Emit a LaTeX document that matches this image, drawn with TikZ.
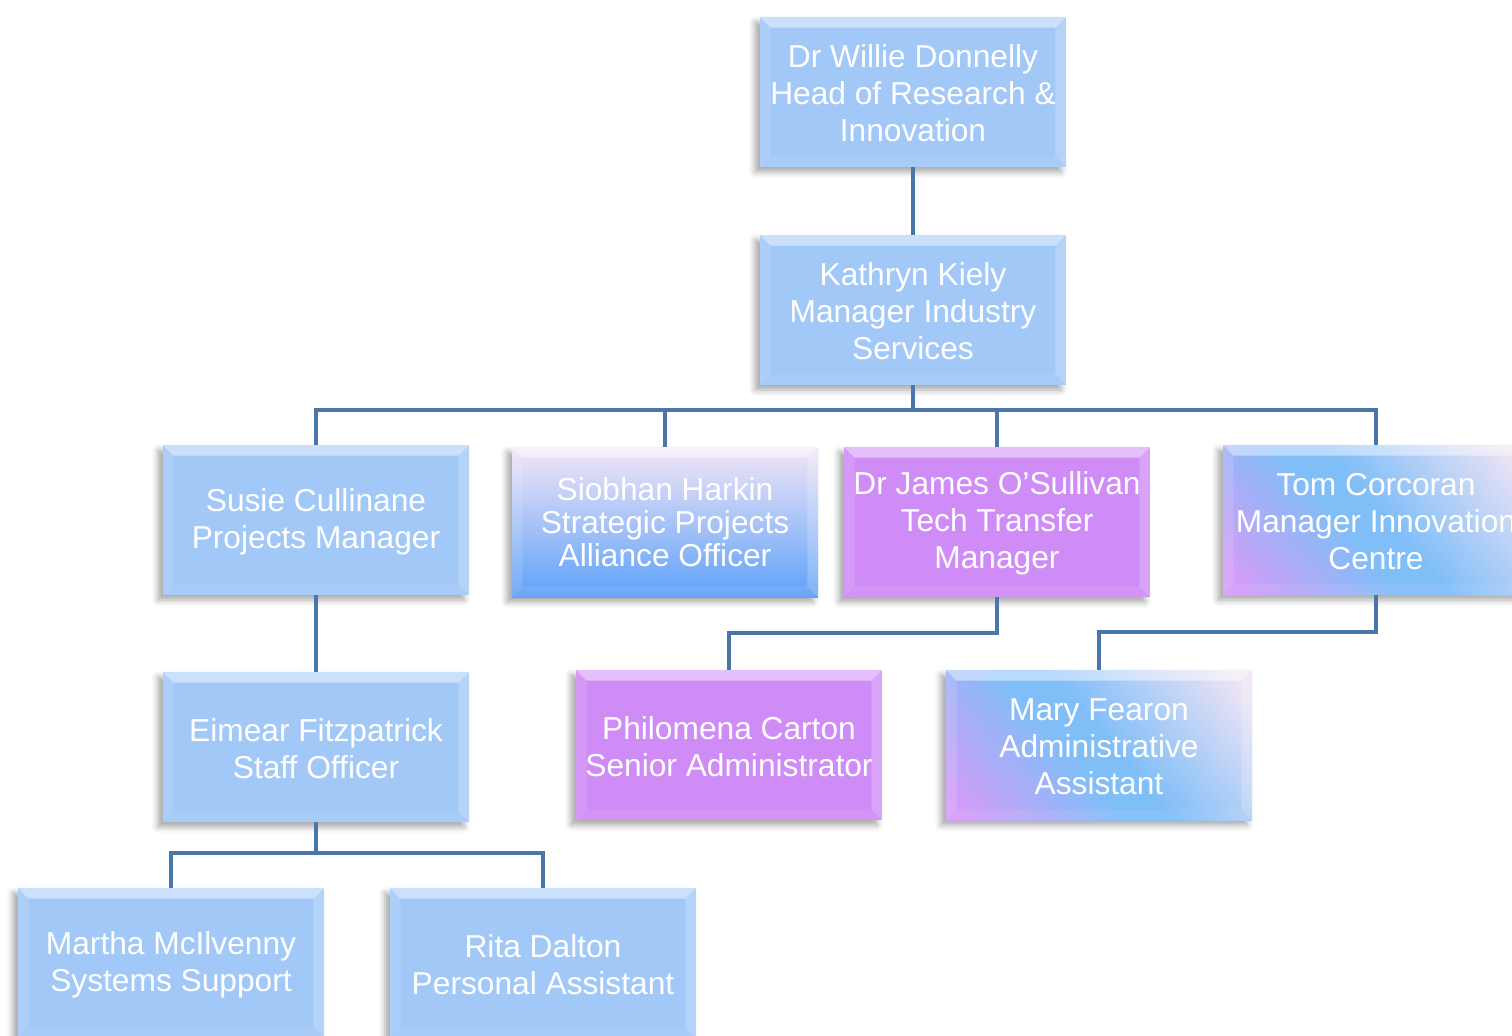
\documentclass[tikz,border=0pt]{standalone}
\usepackage{fontspec}
\setmainfont{Liberation Sans}
\usetikzlibrary{shadows.blur}
\definecolor{plainC}{HTML}{A2C8F8}
\definecolor{vioC}{HTML}{D08CF6}
\definecolor{lineC}{HTML}{4A76A9}
\definecolor{violA}{HTML}{D49CF8}
\definecolor{blueA}{HTML}{80BEF8}
\definecolor{lavA}{HTML}{F0E4F4}
\definecolor{sTop}{HTML}{F2E6F6}
\definecolor{sMid}{HTML}{A4CDF7}
\definecolor{sBot}{HTML}{5FA1F8}
\pgfdeclarehorizontalshading{triShade}{100bp}{color(0bp)=(violA); color(18bp)=(violA); color(44bp)=(blueA); color(52bp)=(blueA); color(82bp)=(lavA); color(100bp)=(lavA)}
\tikzset{
  orgbox/.style={minimum width=153pt, minimum height=75pt, inner sep=0pt, align=center,
    text=white, font=\fontsize{15.85}{18.5}\selectfont,
    blur shadow={shadow xshift=-2.5pt, shadow yshift=-2.5pt, shadow blur radius=3pt, shadow opacity=35}},
  plainbox/.style={orgbox, fill=plainC},
  violbox/.style={orgbox, fill=vioC},
  vertgrad/.style={orgbox, top color=sTop, middle color=sMid, bottom color=sBot},
  diaggrad/.style={orgbox, shading=triShade, shading angle=40},
  conn/.style={draw=lineC, line width=2pt}
}
\begin{document}
\begin{tikzpicture}[x=0.5pt,y=-0.5pt]
\useasboundingbox (0,0) rectangle (1512,1035);
\clip (0,0) rectangle (1512,1035);
\node[plainbox] (w) at (913,92) {\strut Dr Willie Donnelly\\Head of Research \&\\Innovation};
\node[plainbox] (k) at (913,310) {\strut Kathryn Kiely\\Manager Industry\\Services};
\node[plainbox] (s) at (316,520) {\strut Susie Cullinane\\Projects Manager};
\node[vertgrad, font=\fontsize{15.85}{16.5}\selectfont] (h) at (665,522) {Siobhan Harkin\\Strategic Projects\\Alliance Officer};
\node[violbox] (j) at (997,522) {\strut Dr James O'Sullivan\\Tech Transfer\\Manager};
\node[diaggrad] (t) at (1376,520) {\strut Tom Corcoran\\Manager Innovation\\Centre};
\node[plainbox] (e) at (316,747) {\strut Eimear Fitzpatrick\\Staff Officer};
\node[violbox] (p) at (729,745) {\strut Philomena Carton\\Senior Administrator};
\node[diaggrad] (m) at (1099,745) {\strut Mary Fearon\\Administrative\\Assistant};
\node[plainbox] (mc) at (171,963) {\strut Martha McIlvenny\\Systems Support};
\node[plainbox] (r) at (543,963) {\strut Rita Dalton\\Personal Assistant};
\foreach \n in {w,k,s,h,j,t,e,p,m,mc,r}{
  \fill[white,opacity=.45] (\n.north west) -- (\n.north east) -- ([shift={(-11,11)}]\n.north east) -- ([shift={(11,11)}]\n.north west) -- cycle;
  \fill[white,opacity=.12] (\n.north west) -- ([shift={(11,11)}]\n.north west) -- ([shift={(11,-11)}]\n.south west) -- (\n.south west) -- cycle;
  \fill[white,opacity=.2] (\n.north east) -- ([shift={(-11,11)}]\n.north east) -- ([shift={(-11,-11)}]\n.south east) -- (\n.south east) -- cycle;
  \fill[white,opacity=.07] (\n.south west) -- ([shift={(11,-11)}]\n.south west) -- ([shift={(-11,-11)}]\n.south east) -- (\n.south east) -- cycle;
}
\coordinate (kb) at (913,410);
\draw[conn] (w.south) -- (k.north);
\draw[conn] (k.south) -- (kb);
\draw[conn] (s.north) -- (s.north |- kb) -- (t.north |- kb) -- (t.north);
\draw[conn] (h.north) -- (h.north |- kb);
\draw[conn] (j.north) -- (j.north |- kb);
\draw[conn] (j.south) -- ++(0,36) -| (p.north);
\draw[conn] (t.south) -- ++(0,37) -| (m.north);
\draw[conn] (s.south) -- (e.north);
\draw[conn] (e.south) -- ++(0,31) coordinate (eb);
\draw[conn] (mc.north) |- (eb) -| (r.north);
\end{tikzpicture}
\end{document}
